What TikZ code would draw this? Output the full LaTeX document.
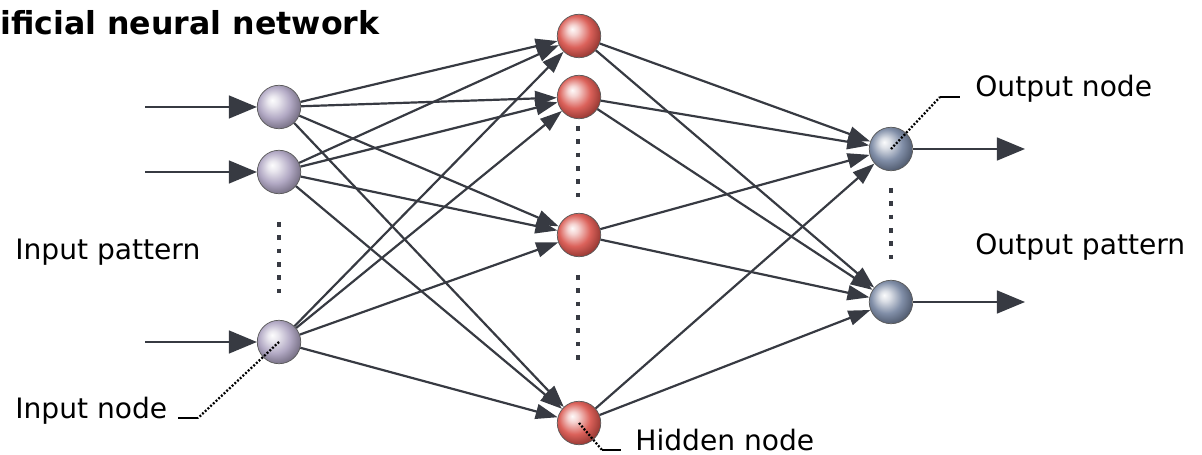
\documentclass[tikz,border=0pt]{standalone}
\usepackage{fontspec}
\setmainfont{DejaVu Sans}
\usetikzlibrary{arrows.meta}

\definecolor{linegray}{RGB}{55,58,66}
\definecolor{inball}{RGB}{170,160,190}
\definecolor{hidball}{RGB}{215,80,72}
\definecolor{outball}{RGB}{115,130,158}

\newcommand{\sphereshade}[2]{%
  \pgfdeclareradialshading{#1}{\pgfqpoint{-8bp}{8bp}}{%
    color(0bp)=(#2!3!white); color(6bp)=(#2!25!white);
    color(18bp)=(#2!90!white); color(29bp)=(#2!70!black);
    color(50bp)=(#2!70!black)}}
\sphereshade{inshade}{inball}
\sphereshade{hidshade}{hidball}
\sphereshade{outshade}{outball}

\begin{document}
\begin{tikzpicture}[x=0.02cm, y=-0.02cm,
                    neuron/.style={circle, draw=black!65, line width=0.4pt,
                                   minimum size=0.87cm, inner sep=0pt},
                    in node/.style={neuron, shading=inshade},
                    hid node/.style={neuron, shading=hidshade},
                    out node/.style={neuron, shading=outshade},
                    link/.style={draw=linegray, line width=1.25pt,
                                 -{Triangle[length=12.5pt,width=8.5pt]}},
                    feed/.style={draw=linegray, line width=1.25pt,
                                 -{Triangle[length=16pt,width=13pt]}},
                    more/.style={draw=linegray, line width=2.6pt,
                                 dash pattern=on 2.6pt off 5pt},
                    leader/.style={draw=black, line width=1.3pt,
                                   dash pattern=on 1.1pt off 1pt},
                    bar/.style={draw=black, line width=1.3pt},
                    lbl/.style={font=\fontsize{16}{19}\selectfont,
                                inner sep=0pt, anchor=base west}]

  \useasboundingbox (0,0) rectangle (1202,455);

  % layers
  \node[in node] (in1) at (279,107) {};
  \node[in node] (in2) at (279,172) {};
  \node[in node] (in3) at (279,342) {};

  \node[hid node] (hid1) at (579,36) {};
  \node[hid node] (hid2) at (579,97) {};
  \node[hid node] (hid3) at (579,235) {};
  \node[hid node] (hid4) at (579,423) {};

  \node[out node] (out1) at (891,149) {};
  \node[out node] (out2) at (891,302) {};

  % pattern in and out
  \coordinate (src1) at (145,107);
  \coordinate (src2) at (145,172);
  \coordinate (src3) at (145,342);
  \coordinate (snk1) at (1025,149);
  \coordinate (snk2) at (1025,302);

  \path[every edge/.style=feed]
    (src1) edge (in1)
    (src2) edge (in2)
    (src3) edge (in3)
    (out1) edge (snk1)
    (out2) edge (snk2);

  \path[every edge/.style=link]
    (in1) edge (hid1)
          edge (hid2)
          edge (hid3)
          edge (hid4)
    (in2) edge (hid1)
          edge (hid2)
          edge (hid3)
          edge (hid4)
    (in3) edge (hid1)
          edge (hid2)
          edge (hid3)
          edge (hid4)
    (hid1) edge (out1)
           edge (out2)
    (hid2) edge (out1)
           edge (out2)
    (hid3) edge (out1)
           edge (out2)
    (hid4) edge (out1)
           edge (out2);

  % dots between nodes
  \draw[more] (279,222) -- (279,294);
  \draw[more] (578,126) -- (578,200);
  \draw[more] (578,275) -- (578,365);
  \draw[more] (891,188) -- (891,262);

  % texts
  \node[lbl, font=\fontsize{18}{21}\selectfont\bfseries] (title) at (0,35)
    {ificial neural network};
  \node[lbl] (inpat) at (15,260) {Input pattern};
  \node[lbl] (outpat) at (975,255) {Output pattern};
  \node[lbl] (outlab) at (975,97) {Output node};
  \node[lbl] (inlab) at (15,418) {Input node};
  \node[lbl] (hidlab) at (635,450) {Hidden node};

  % pointers
  \coordinate (inbend) at (198,418);
  \coordinate (inbar) at (178,418);
  \coordinate (outbend) at (940,97);
  \coordinate (outbar) at (960,97);
  \coordinate (hidbend) at (602,450);
  \coordinate (hidbar) at (621,450);

  \draw[leader] (in3.center) -- (inbend);
  \draw[bar] (inbend) -- (inbar);
  \draw[leader] (out1.center) -- (outbend);
  \draw[bar] (outbend) -- (outbar);
  \draw[leader] (hid4.center) -- (hidbend);
  \draw[bar] (hidbend) -- (hidbar);
\end{tikzpicture}
\end{document}
